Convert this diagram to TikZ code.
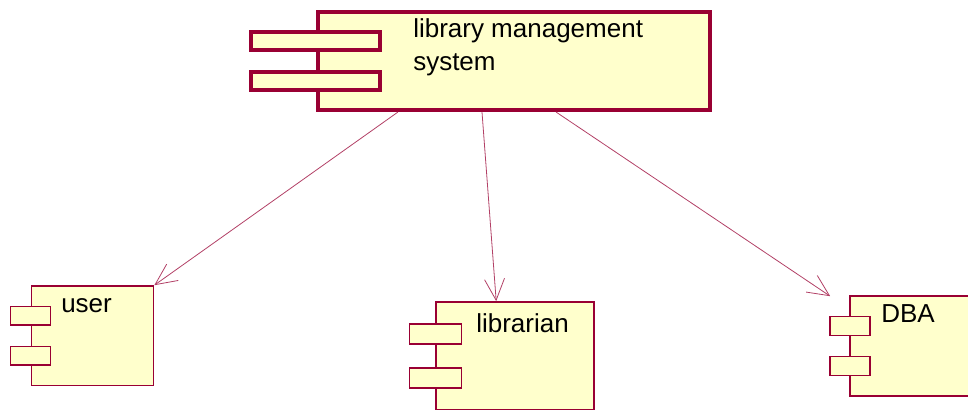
\documentclass[tikz,border=0pt]{standalone}
\usepackage{fontspec}
\setmainfont{Liberation Sans}
\usetikzlibrary{arrows.meta,calc}
\definecolor{compclr}{RGB}{153,0,51}
\definecolor{compfill}{RGB}{255,255,204}
\tikzset{
  comp/.style={rectangle,draw=compclr,fill=compfill,line width=1.2pt,inner sep=0pt},
  bigcomp/.style={comp,line width=3pt},
  lbl/.style={anchor=base west,inner sep=0pt,align=left,
              font=\fontsize{19.5}{24.75}\selectfont},
  dep/.style={-{Straight Barb[length=16pt,width=15pt]},draw=compclr!75,line width=0.6pt},
}
\begin{document}
\begin{tikzpicture}[x=0.75pt,y=-0.75pt]
\useasboundingbox (0,0) rectangle (968,411);

% library management system (top)
\node[bigcomp,minimum width=294pt,minimum height=73.5pt] (lms) at (514,61) {};
\node[bigcomp,minimum width=96.4pt,minimum height=13.5pt] (lmstab1) at (315.75,41) {};
\node[bigcomp,minimum width=96.4pt,minimum height=13.5pt] (lmstab2) at (315.75,81) {};
\node[lbl] (lmstxt) at (413,70.7) {library management\\system};

% user
\node[comp,minimum width=91.5pt,minimum height=74.6pt] (user) at (92.5,335.75) {};
\node[comp,minimum width=30pt,minimum height=13.9pt] (usertab1) at (30.5,315.75) {};
\node[comp,minimum width=30pt,minimum height=13.9pt] (usertab2) at (30.5,355.75) {};
\node[lbl] (usertxt) at (61,312.3) {user};

% librarian
\node[comp,minimum width=118.5pt,minimum height=80.5pt] (librarian) at (515,355.65) {};
\node[comp,minimum width=39pt,minimum height=15.2pt] (libtab1) at (435.5,333.85) {};
\node[comp,minimum width=39pt,minimum height=15.2pt] (libtab2) at (435.5,378) {};
\node[lbl] (libtxt) at (476,332.3) {librarian};

% DBA
\node[comp,minimum width=105pt,minimum height=75pt] (dba) at (920,346) {};
\node[comp,minimum width=30pt,minimum height=14pt] (dbatab1) at (850,326) {};
\node[comp,minimum width=30pt,minimum height=14pt] (dbatab2) at (850,366) {};
\node[lbl] (dbatxt) at (881,322.3) {DBA};

% dependencies
\draw[dep] ($(lms.south west)+(82,0)$) -- (user.north east);
\draw[dep] ($(lms.south west)+(166,0)$) -- ($(librarian.north west)+(61,0)$);
\draw[dep] ($(lms.south west)+(240,0)$) -- ($(dba.north west)+(-19,1)$);

\end{tikzpicture}
\end{document}
